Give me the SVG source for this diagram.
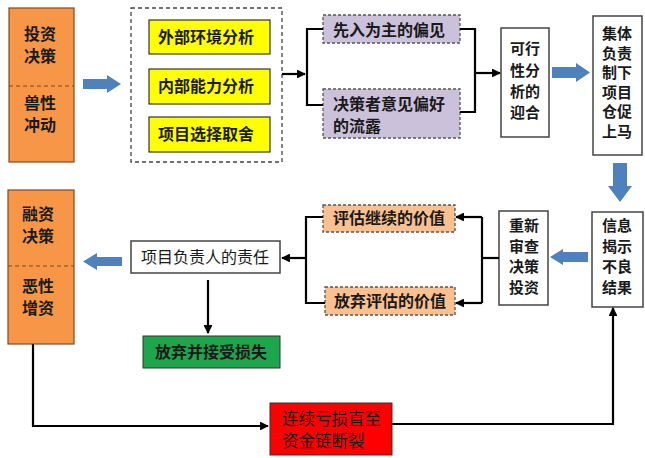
<svg xmlns="http://www.w3.org/2000/svg" width="645" height="458" viewBox="0 0 645 458">
<defs>
<marker id="ah" viewBox="0 0 10 10" refX="9" refY="5" markerWidth="4" markerHeight="4" orient="auto" markerUnits="strokeWidth">
<path d="M0,0 L10,5 L0,10 z" fill="#000"/>
</marker>
<style>
.t{font-family:"Noto Sans CJK SC","Noto Sans",sans-serif;font-size:16px;font-weight:bold;fill:#1a1a1a}
.v{font-size:15px}
.c{text-anchor:middle}
.box{fill:#fff;stroke:#444;stroke-width:1.5}
.or{fill:#f79646;stroke:#7f4a1f;stroke-width:1.2}
.yl{fill:#ffff00;stroke:#333;stroke-width:1.2}
.pu{fill:#ccc1da;stroke:#555;stroke-width:1.3;stroke-dasharray:3,2}
.lo{fill:#fac090;stroke:#555;stroke-width:1.3;stroke-dasharray:3,2}
.ln{fill:none;stroke:#000;stroke-width:2.2}
.ba{fill:#4f81bd}
</style>
</defs>
<rect width="645" height="458" fill="#fff"/>

<g id="invest">
<rect class="or" x="9" y="8" width="65" height="154"/>
<line x1="9" y1="86" x2="74" y2="86" stroke="#7f4a1f" stroke-width="1.2" stroke-dasharray="4,3"/>
<text class="t c" x="40" y="40">投资</text>
<text class="t c" x="40" y="62">决策</text>
<text class="t c" x="40" y="109">兽性</text>
<text class="t c" x="40" y="131">冲动</text>
</g>

<g id="analysis">
<rect x="131" y="8" width="151" height="154" fill="none" stroke="#444" stroke-width="1.3" stroke-dasharray="4,3"/>
<rect class="yl" x="149" y="20" width="121" height="34"/>
<text class="t c" x="206" y="43">外部环境分析</text>
<rect class="yl" x="149" y="69" width="121" height="35"/>
<text class="t c" x="206" y="92">内部能力分析</text>
<rect class="yl" x="149" y="117" width="121" height="35"/>
<text class="t c" x="206" y="140">项目选择取舍</text>
</g>

<g id="bias1">
<rect class="pu" x="323" y="15" width="137" height="28"/>
<text class="t" x="333" y="36">先入为主的偏见</text>
</g>
<g id="bias2">
<rect class="pu" x="323" y="89" width="137" height="49"/>
<text class="t" x="333" y="110">决策者意见偏好</text>
<text class="t" x="333" y="132">的流露</text>
</g>

<g id="feasible">
<rect class="box" x="501" y="28" width="48" height="109"/>
<text class="t v c" x="525" y="54">可行</text>
<text class="t v c" x="525" y="76">性分</text>
<text class="t v c" x="525" y="97">析的</text>
<text class="t v c" x="525" y="118">迎合</text>
</g>

<g id="collective">
<rect class="box" x="593" y="16" width="49" height="139"/>
<text class="t v c" x="617" y="39">集体</text>
<text class="t v c" x="617" y="58.5">负责</text>
<text class="t v c" x="617" y="78">制下</text>
<text class="t v c" x="617" y="97.5">项目</text>
<text class="t v c" x="617" y="117">仓促</text>
<text class="t v c" x="617" y="136.5">上马</text>
</g>

<g id="reveal">
<rect class="box" x="592" y="212" width="51" height="95"/>
<text class="t v c" x="617" y="231">信息</text>
<text class="t v c" x="617" y="251.5">揭示</text>
<text class="t v c" x="617" y="272">不良</text>
<text class="t v c" x="617" y="292.5">结果</text>
</g>

<g id="review">
<rect class="box" x="499" y="211" width="49" height="94"/>
<text class="t v c" x="524" y="231">重新</text>
<text class="t v c" x="524" y="251.5">审查</text>
<text class="t v c" x="524" y="272">决策</text>
<text class="t v c" x="524" y="292.5">投资</text>
</g>

<g id="value1">
<rect class="lo" x="323" y="205" width="132" height="27"/>
<text class="t c" x="389" y="224">评估继续的价值</text>
</g>
<g id="value2">
<rect class="lo" x="325" y="287" width="130" height="28"/>
<text class="t c" x="390" y="307">放弃评估的价值</text>
</g>

<g id="responsibility">
<rect class="box" x="131" y="241" width="149" height="32"/>
<text class="t c" x="205" y="263" style="font-weight:normal">项目负责人的责任</text>
</g>

<g id="abandon">
<rect x="143" y="336" width="137" height="32" fill="#1ea64c" stroke="#333" stroke-width="1"/>
<text class="t c" x="211" y="358">放弃并接受损失</text>
</g>

<g id="finance">
<rect class="or" x="8" y="190" width="66" height="154"/>
<line x1="8" y1="266" x2="74" y2="266" stroke="#7f4a1f" stroke-width="1.2" stroke-dasharray="4,3"/>
<text class="t c" x="38" y="220">融资</text>
<text class="t c" x="38" y="242">决策</text>
<text class="t c" x="38" y="292">恶性</text>
<text class="t c" x="38" y="314">增资</text>
</g>

<g id="loss">
<rect x="270" y="403" width="122" height="52" fill="#ff0000" stroke="#333" stroke-width="1"/>
<text class="t" x="282" y="425" style="font-weight:normal;font-size:16.5px">连续亏损直至</text>
<text class="t" x="282" y="447" style="font-weight:normal;font-size:16.5px">资金链断裂</text>
</g>

<g id="connectors">
<path class="ba" d="M83,79 L107,79 L107,75 L121,84 L107,93 L107,89 L83,89 z"/>
<path class="ba" d="M552,67 L576,67 L576,63 L590,72.5 L576,82 L576,78 L552,78 z"/>
<path class="ba" d="M613,163 L627,163 L627,186 L632,186 L620,202 L608,186 L613,186 z"/>
<path class="ba" d="M588,252 L563,252 L563,249 L550,257 L563,265 L563,262 L588,262 z"/>
<path class="ba" d="M122,257 L97,257 L97,253 L83,261.5 L97,270 L97,266 L122,266 z"/>

<line class="ln" x1="282" y1="74" x2="305" y2="74" marker-end="url(#ah)"/>
<path class="ln" d="M323,29 L307,29 L307,105 L323,105"/>
<path class="ln" d="M460,29 L475,29 L475,112 L460,112"/>
<line class="ln" x1="475" y1="73" x2="500" y2="73" marker-end="url(#ah)"/>

<line class="ln" x1="499" y1="258" x2="482" y2="258"/>
<path class="ln" d="M482,303 L482,217"/>
<line class="ln" x1="482" y1="217" x2="456" y2="217" marker-end="url(#ah)"/>
<line class="ln" x1="482" y1="303" x2="456" y2="303" marker-end="url(#ah)"/>
<path class="ln" d="M323,217 L306,217 L306,303 L325,303"/>
<line class="ln" x1="306" y1="258" x2="282" y2="258" marker-end="url(#ah)"/>
<line class="ln" x1="208" y1="280" x2="208" y2="333" marker-end="url(#ah)"/>

<path class="ln" d="M33,344 L33,426 L268,426" marker-end="url(#ah)"/>
<path class="ln" d="M392,424 L613,424 L613,308" marker-end="url(#ah)"/>
</g>
</svg>
